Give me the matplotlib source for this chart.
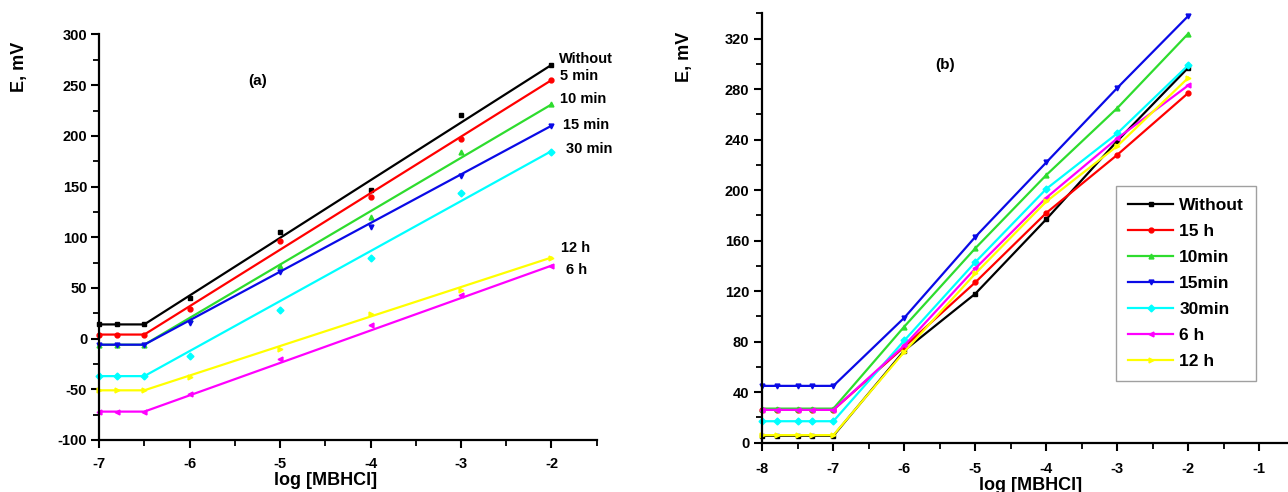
import numpy as np
import matplotlib.pyplot as plt
from matplotlib.ticker import MultipleLocator

plt.rcParams['font.family'] = ['Liberation Sans', 'DejaVu Sans']
plt.rcParams['font.weight'] = 'bold'
plt.rcParams['axes.unicode_minus'] = False

# Panel (a): measured points and fitted lines
xa = [-7, -6.8, -6.5, -6, -5, -4, -3, -2]
a_without = [14, 14, 14, 40, 105, 147, 221, 270]
a_5min = [4, 4, 4, 29, 96, 140, 197, 255]
a_10min = [-6, -6, -6, 19, 72, 120, 184, 231]
a_15min = [-6, -6, -6, 15, 66, 110, 160, 210]
a_30min = [-37, -37, -37, -17, 28, 80, 144, 184]
a_6h = [-72, -72, -72, -55, -20, 13, 43, 72]
a_12h = [-51, -51, -51, -38, -10, 24, 48, 80]

xa_fit = [-7, -6.5, -2]
fit_without = [14, 14, 270]
fit_5min = [4, 4, 255]
fit_10min = [-6, -6, 231]
fit_15min = [-6, -6, 210]
fit_30min = [-37, -37, 185]
fit_6h = [-72, -72, 72]
fit_12h = [-51, -51, 80]

labels_a = ['Without', '5 min', '10 min', '15 min', '30 min', '6 h', '12 h']

# Panel (b)
xb = [-8, -7.8, -7.5, -7.3, -7, -6, -5, -4, -3, -2]
b_without = [5.5, 5.5, 5.5, 5.5, 5.5, 73, 118, 177, 239, 297]
b_15h = [26, 26, 26, 26, 26, 76, 127, 182, 228, 277]
b_10min = [27, 27, 27, 27, 27, 92, 154, 212, 265, 324]
b_15min = [45, 45, 45, 45, 45, 99, 163, 222, 281, 338]
b_30min = [17, 17, 17, 17, 17, 81, 143, 201, 245, 299]
b_6h = [26, 26, 26, 26, 26, 77, 138, 194, 241, 283]
b_12h = [6, 6, 6, 6, 6, 72, 134, 191, 235, 289]

labels_b = ['Without', '15 h', '10min', '15min', '30min', '6 h', '12 h']

colors = ['black', '#ff0000', '#2edc2e', '#0a0ae6', '#00ffff', '#ff00ff', '#ffff00']
markers = ['s', 'o', '^', 'v', 'D', '<', '>']

# where the series names go in panel (a)
text_x = [-1.92, -1.91, -1.91, -1.875, -1.84, -1.84, -1.89]
text_y = [276, 259, 236, 211, 187, 68, 89]

fig = plt.figure(figsize=(12.88, 4.92), dpi=100)
ax1 = fig.add_axes([0.0769, 0.1057, 0.3864, 0.8242])
ax2 = fig.add_axes([0.5919, 0.1002, 0.4134, 0.8727])


def style_axes(ax, xpad, ypad):
    for side in ['top', 'right']:
        ax.spines[side].set_visible(False)
    for side in ['left', 'bottom']:
        ax.spines[side].set_linewidth(1.6)
    ax.tick_params(which='major', direction='out', length=6, width=1.5, labelsize=10.5)
    ax.tick_params(which='minor', direction='out', length=4, width=1.3)
    ax.tick_params(axis='x', which='major', pad=xpad)
    ax.tick_params(axis='y', which='major', pad=ypad)
    for lab in ax.get_xticklabels() + ax.get_yticklabels():
        lab.set_fontweight('bold')


series_a = [a_without, a_5min, a_10min, a_15min, a_30min, a_6h, a_12h]
fits_a = [fit_without, fit_5min, fit_10min, fit_15min, fit_30min, fit_6h, fit_12h]
for ys, fy, c, m, lab, tx, ty in zip(series_a, fits_a, colors, markers, labels_a, text_x, text_y):
    ax1.plot(xa, ys, linestyle='none', marker=m, color=c, markersize=3.5, clip_on=False)
    ax1.plot(xa_fit, fy, color=c, linewidth=1.6, clip_on=False)
    ax1.text(tx, ty, lab, fontsize=10.5, fontweight='bold', va='center', ha='left')

ax1.set_xlim(-7, -1.5)
ax1.set_ylim(-100, 300)
ax1.xaxis.set_major_locator(MultipleLocator(1))
ax1.xaxis.set_minor_locator(MultipleLocator(0.5))
ax1.yaxis.set_major_locator(MultipleLocator(50))
ax1.yaxis.set_minor_locator(MultipleLocator(25))
style_axes(ax1, 6.5, 2.5)
ax1.text(-5.245, 254, '(a)', fontsize=11, fontweight='bold', ha='center', va='center')
ax1.set_xlabel('log [MBHCl]', fontsize=13, fontweight='bold', va='top')
ax1.xaxis.set_label_coords(0.455, -0.079)
ax1.set_ylabel('E, mV', fontsize=13, fontweight='bold', ha='center')
ax1.yaxis.set_label_coords(-0.142, 0.919)

series_b = [b_without, b_15h, b_10min, b_15min, b_30min, b_6h, b_12h]
for ys, c, m, lab in zip(series_b, colors, markers, labels_b):
    ax2.plot(xb, ys, color=c, marker=m, markersize=3.5, linewidth=1.6, label=lab, clip_on=False)

ax2.set_xlim(-8, -0.5)
ax2.set_ylim(0, 340)
ax2.xaxis.set_major_locator(MultipleLocator(1))
ax2.xaxis.set_minor_locator(MultipleLocator(0.5))
ax2.yaxis.set_major_locator(MultipleLocator(40))
ax2.yaxis.set_minor_locator(MultipleLocator(20))
style_axes(ax2, 8, 3.5)
ax2.text(-5.42, 299, '(b)', fontsize=11, fontweight='bold', ha='center', va='center')
ax2.set_xlabel('log [MBHCl]', fontsize=13, fontweight='bold', va='top')
ax2.xaxis.set_label_coords(0.503, -0.08)
ax2.set_ylabel('E, mV', fontsize=13, fontweight='bold', ha='center')
ax2.yaxis.set_label_coords(-0.130, 0.899)

leg = ax2.legend(loc='upper left', bbox_to_anchor=(0.664, 0.598), borderaxespad=0,
                 numpoints=1, fancybox=False, handlelength=2.6, handletextpad=0.35,
                 labelspacing=0.62, borderpad=0.7, prop={'weight': 'bold', 'size': 12.5})
leg.get_frame().set_edgecolor('#888888')
leg.get_frame().set_linewidth(1.0)

fig.savefig('out.png', dpi=100)
